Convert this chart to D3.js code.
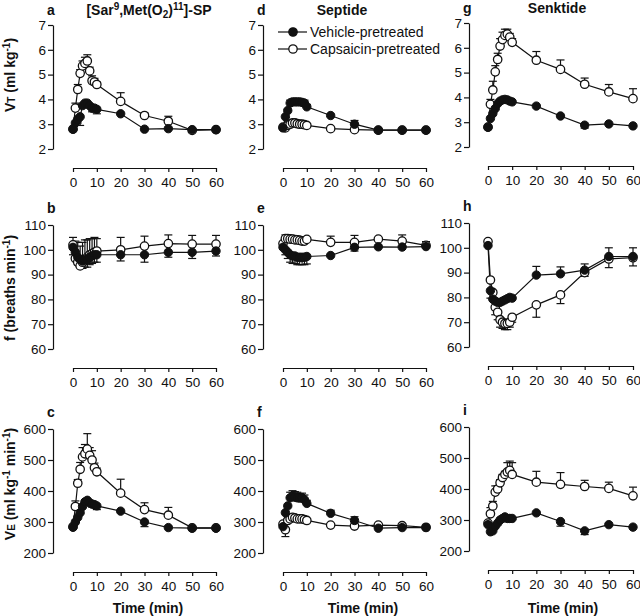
<!DOCTYPE html>
<html><head><meta charset="utf-8">
<script src="https://cdn.jsdelivr.net/npm/d3@7"></script>
<style>
body{margin:0;background:#fff}
svg{display:block}
text{font-family:"Liberation Sans",Arial,Helvetica,sans-serif;fill:#111}
</style>
</head><body>
<svg id="c" width="640" height="616"></svg>
<script>
// ---------- DATA ----------
const times = [0,1,2,3,4,5,6,7,8,9,10,20,30,40,50,60];
const xTicks = [0,10,20,30,40,50,60];
const vtTicks = [2,3,4,5,6,7];
const fTicks = [60,70,80,90,100,110];
const veTicks = [200,300,400,500,600];
const seriesNames = ["Vehicle-pretreated","Capsaicin-pretreated"];
const columnTitles = ["[Sar9,Met(O2)11]-SP","Septide","Senktide"];
const panelLetters = ["a","b","c","d","e","f","g","h","i"];

// VT (ml kg-1)
const aVeh = [2.8,3.05,3.2,3.3,3.75,3.85,3.85,3.75,3.65,3.65,3.6,3.42,2.8,2.82,2.78,2.78];
const aVehErr = [0,0,-0.15,-0.35,0,0,0,-0.1,-0.15,-0.15,-0.18,0,0,0,0,0];
const aCap = [2.8,3.65,4.4,5.05,5.35,5.45,5.55,5.15,4.75,4.7,4.6,3.92,3.35,3.12,2.75,2.78];
const aCapErr = [0,0.2,0.2,0.15,0.2,0.25,0.25,0.15,0.2,0.15,0.1,0.35,0.1,0.2,0,0];

const dVeh = [2.85,3.3,3.55,3.85,3.9,3.9,3.9,3.9,3.88,3.85,3.7,3.35,3.0,2.76,2.76,2.76];
const dVehErr = [0,0,0,0.12,0.12,0.12,0.12,0.12,0.12,0.12,0.1,0,0.15,0,0,0];
const dCap = [2.88,2.85,2.95,3.0,3.05,3.05,3.02,3.0,3.0,2.98,2.95,2.82,2.78,2.76,2.76,2.76];
const dCapErr = [0,0,0,0,0,0,0,0,0,0,0,0,0,0,0,0];

const gVeh = [2.8,3.15,3.35,3.55,3.75,3.85,3.9,3.92,3.9,3.85,3.82,3.65,3.25,2.88,2.93,2.85];
const gVehErr = [0,0,0,0,0,0,0,0,0,0,0,0,0,-0.12,0,0];
const gCap = [2.8,3.72,4.3,5.03,5.53,6.07,6.33,6.5,6.55,6.43,6.22,5.5,5.13,4.53,4.22,3.95];
const gCapErr = [0,0.2,0.35,0.25,0.25,0.3,0.3,0.25,0.2,0.15,0.15,0.35,0.38,0.25,0.3,0.4];

// f (breaths min-1)
const bVeh = [101,99,97,96,95.5,96,96,97,97.5,98,98,98,98,99,99,99.5];
const bVehErr = [-3,-3,-3,-3,-3,-3,-3,-3,-3,-3,-3,-2.5,-3,-2,-2.5,-2];
const bCap = [102,96.5,95,93.5,95,96,97,98,98.5,99,99.5,100,101.5,102.5,102.3,102.3];
const bCapErr = [3,7,8,8,8,8,7,6.5,6,6,5,5,4,3.5,3.5,3.5];

const eVeh = [101,100,99,98,97.5,97.5,97,97,97,97,97.3,97.7,101,101.2,101.1,101.3];
const eVehErr = [0,-2,-2.5,-3,-3,-3,-3,-3,-3,-3,-3,0,-1.5,0,0,0];
const eCap = [102.5,104.5,104.5,104.3,104.3,104,104,103.8,103.5,103.5,104.2,103,103,104.3,103.5,101.8];
const eCapErr = [0,1.5,1.5,1.5,1.5,1.5,1.5,1.5,1.5,1.5,0,2.5,2.8,0,2.5,1.5];

const hVeh = [100.9,82.7,79.3,78.5,78,78,78.5,79,79.5,80,79.7,89,89.5,91,96.5,96.5];
const hVehErr = [0,-3,0,0,0,0,0,0,0,0,0,3.5,2.8,2.5,3.5,3.5];
const hCap = [102.5,87,82,76,74,71,70,69.5,69.5,70,72,77,81,90,95.5,96];
const hCapErr = [0,0,-3,-3,-3,-3,-2.5,-2.5,-2.5,-2,-2,-5,-3.5,-1.5,-3.5,-3.3];

// VE (ml kg-1 min-1)
const cVeh = [283,300,315,330,350,365,370,362,358,356,352,335,300,282,280,280];
const cVehErr = [0,0,0,0,0,0,0,0,-10,-10,-12,0,-15,0,0,0];
const cCap = [285,350,425,470,510,520,535,515,500,475,462,393,340,322,281,281];
const cCapErr = [0,18,12,22,30,30,50,25,30,15,12,45,22,25,0,0];

const fVeh = [285,330,352,378,383,380,378,377,378,372,360,328,305,280,282,282];
const fVehErr = [0,0,0,18,18,18,18,15,15,15,10,10,12,0,0,0];
const fCap = [293,275,305,310,315,313,310,310,310,308,305,290,287,290,288,283];
const fCapErr = [0,-22,0,0,0,0,0,0,0,0,0,0,0,0,0,0];

const iVeh = [285,262,265,280,290,300,305,310,305,305,305,323,295,265,285,277];
const iVehErr = [0,0,0,0,0,0,0,0,0,0,0,0,-15,-12,0,0];
const iCap = [290,320,345,390,400,420,437,447,455,460,447,422,415,408,402,378];
const iCapErr = [0,20,15,20,10,10,10,10,30,30,38,35,38,20,20,28];

// ---------- LAYOUT ----------
const svg = d3.select("#c");
const cols = [
  {axis:53, x0:73, x1:216, dy:0, letterX:47, titleX:149, timeX:148},
  {axis:263, x0:283, x1:426, dy:0, letterX:257, titleX:342, timeX:363},
  {axis:469, x0:488, x1:633, dy:-2, letterX:463, titleX:557, timeX:563}
];
const rows = [
  {top:25, bot:149, xa:168, domain:[2,7], ticks:vtTicks, letterY:15},
  {top:225, bot:349, xa:368, domain:[60,110], ticks:fTicks, letterY:213},
  {top:429, bot:553, xa:572, domain:[200,600], ticks:veTicks, letterY:417}
];
const panels = [
  {col:0,row:0,veh:aVeh,vehErr:aVehErr,cap:aCap,capErr:aCapErr},
  {col:0,row:1,veh:bVeh,vehErr:bVehErr,cap:bCap,capErr:bCapErr},
  {col:0,row:2,veh:cVeh,vehErr:cVehErr,cap:cCap,capErr:cCapErr},
  {col:1,row:0,veh:dVeh,vehErr:dVehErr,cap:dCap,capErr:dCapErr},
  {col:1,row:1,veh:eVeh,vehErr:eVehErr,cap:eCap,capErr:eCapErr},
  {col:1,row:2,veh:fVeh,vehErr:fVehErr,cap:fCap,capErr:fCapErr},
  {col:2,row:0,veh:gVeh,vehErr:gVehErr,cap:gCap,capErr:gCapErr},
  {col:2,row:1,veh:hVeh,vehErr:hVehErr,cap:hCap,capErr:hCapErr},
  {col:2,row:2,veh:iVeh,vehErr:iVehErr,cap:iCap,capErr:iCapErr}
];

const R = 4.2;
const fmt = d3.format("d");

panels.forEach((p, k) => {
  const c = cols[p.col], r = rows[p.row];
  const x = d3.scaleLinear().domain([0,60]).range([c.x0, c.x1]);
  const y = d3.scaleLinear().domain(r.domain).range([r.bot + c.dy, r.top + c.dy]);
  const g = svg.append("g");

  const ya = g.append("g").attr("transform", `translate(${c.axis},0)`)
    .call(d3.axisLeft(y).tickValues(r.ticks).tickFormat(fmt).tickSize(5).tickPadding(2).tickSizeOuter(0));
  const xa = g.append("g").attr("transform", `translate(0,${r.xa + c.dy})`)
    .call(d3.axisBottom(x).tickValues(xTicks).tickFormat(fmt).tickSize(4).tickPadding(5).tickSizeOuter(0));
  [ya, xa].forEach(a => {
    a.selectAll("path,line").attr("stroke", "#111").attr("stroke-width", 1.2);
    a.selectAll("text").attr("font-size", 13.5).attr("fill", "#111")
      .style("font-family", '"Liberation Sans",Arial,sans-serif');
  });

  g.append("text").attr("x", c.letterX).attr("y", r.letterY + c.dy)
    .attr("font-size", 14).attr("font-weight", "bold").text(panelLetters[k]);

  const line = d3.line().x((d,i) => x(times[i])).y(d => y(d));
  g.append("path").attr("d", line(p.cap)).attr("fill","none").attr("stroke","#111").attr("stroke-width",1.2);
  g.append("path").attr("d", line(p.veh)).attr("fill","none").attr("stroke","#111").attr("stroke-width",1.2);

  [[p.cap,p.capErr],[p.veh,p.vehErr]].forEach(([vals, errs]) => {
    vals.forEach((v,i) => {
      const e = errs[i];
      if (!e) return;
      const xx = x(times[i]);
      g.append("line").attr("x1",xx).attr("x2",xx).attr("y1",y(v)).attr("y2",y(v+e))
        .attr("stroke","#111").attr("stroke-width",1.2);
      g.append("line").attr("x1",xx-4).attr("x2",xx+4).attr("y1",y(v+e)).attr("y2",y(v+e))
        .attr("stroke","#111").attr("stroke-width",1.2);
    });
  });

  g.selectAll(".o").data(p.cap).enter().append("circle")
    .attr("cx",(d,i)=>x(times[i])).attr("cy",d=>y(d)).attr("r",R)
    .attr("fill","#fff").attr("stroke","#111").attr("stroke-width",1.3);
  g.selectAll(".f").data(p.veh).enter().append("circle")
    .attr("cx",(d,i)=>x(times[i])).attr("cy",d=>y(d)).attr("r",R)
    .attr("fill","#111").attr("stroke","#111").attr("stroke-width",1);
});

function titleA(t){
  t.append("tspan").text("[Sar");
  t.append("tspan").attr("font-size",10).attr("dy",-5).text("9");
  t.append("tspan").attr("dy",5).text(",Met(O");
  t.append("tspan").attr("font-size",10).attr("dy",3).text("2");
  t.append("tspan").attr("dy",-3).text(")");
  t.append("tspan").attr("font-size",10).attr("dy",-5).text("11");
  t.append("tspan").attr("dy",5).text("]-SP");
}
cols.forEach((c,ci) => {
  const t = svg.append("text").attr("x", c.titleX).attr("y", 15 + c.dy)
    .attr("text-anchor","middle").attr("font-size",14).attr("font-weight","bold");
  if (ci === 0) titleA(t); else t.text(columnTitles[ci]);
  svg.append("text").attr("x", c.timeX).attr("y", 613)
    .attr("text-anchor","middle").attr("font-size",14).attr("font-weight","bold").text("Time (min)");
});

function yTitle(cy, build){
  const t = svg.append("text").attr("transform",`translate(15,${cy}) rotate(-90)`)
    .attr("text-anchor","middle").attr("font-size",14).attr("font-weight","bold");
  build(t);
}
yTitle(75, t => {
  t.append("tspan").text("V");
  t.append("tspan").attr("font-size",10).text("T");
  t.append("tspan").text(" (ml kg");
  t.append("tspan").attr("font-size",10).attr("dy",-5).text("-1");
  t.append("tspan").attr("dy",5).text(")");
});
yTitle(288, t => {
  t.append("tspan").text("f (breaths min");
  t.append("tspan").attr("font-size",10).attr("dy",-5).text("-1");
  t.append("tspan").attr("dy",5).text(")");
});
yTitle(484, t => {
  t.append("tspan").text("V");
  t.append("tspan").attr("font-size",10).text("E");
  t.append("tspan").text(" (ml kg");
  t.append("tspan").attr("font-size",10).attr("dy",-5).text("-1");
  t.append("tspan").attr("dy",5).text(" min");
  t.append("tspan").attr("font-size",10).attr("dy",-5).text("-1");
  t.append("tspan").attr("dy",5).text(")");
});

const leg = svg.append("g");
seriesNames.forEach((name,i) => {
  const yy = 32 + i*17;
  leg.append("line").attr("x1",278).attr("x2",307).attr("y1",yy).attr("y2",yy)
    .attr("stroke","#111").attr("stroke-width",1.2);
  leg.append("circle").attr("cx",293).attr("cy",yy).attr("r",R)
    .attr("fill", i===0 ? "#111" : "#fff").attr("stroke","#111").attr("stroke-width",1.3);
  leg.append("text").attr("x",310).attr("y",yy+5).attr("font-size",14).text(name);
});
</script>
</body></html>
